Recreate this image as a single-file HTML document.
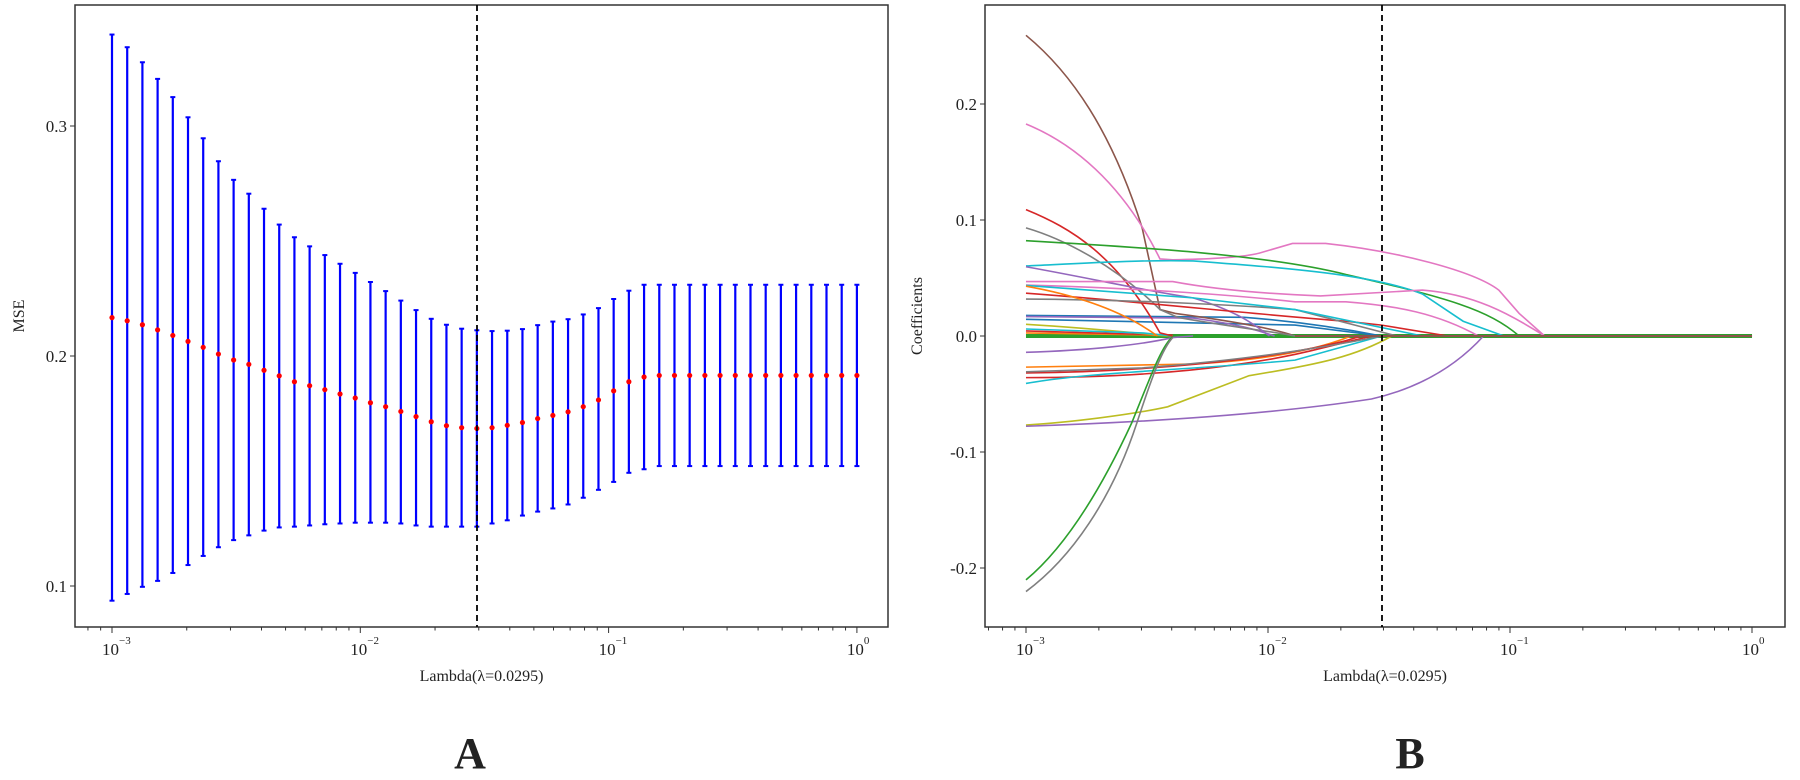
<!DOCTYPE html>
<html><head><meta charset="utf-8"><style>
html,body{margin:0;padding:0;background:#fff}
svg{display:block}
text{font-family:"Liberation Serif",serif;fill:#222}
</style></head><body>
<svg id="s" width="1800" height="780" viewBox="0 0 1800 780" xmlns="http://www.w3.org/2000/svg">
<rect width="1800" height="780" fill="#fff"/>
<g id="L"></g>
<g id="R" fill="none" stroke-width="1.6" transform="translate(785.5,2.24) scale(0.5095,0.389)">
<path stroke="#2ca02c" stroke-width="4" vector-effect="non-scaling-stroke" d="M472,858 L1897,858"/>
<path stroke="#ff7f0e" vector-effect="non-scaling-stroke" d="M472,850 L700,855 L760,858"/>
<path stroke="#d62728" vector-effect="non-scaling-stroke" d="M472,845 L760,856"/>
<path stroke="#bcbd22" vector-effect="non-scaling-stroke" d="M472,828 C560,835 650,845 750,858"/>
<path stroke="#1f77b4" vector-effect="non-scaling-stroke" d="M472,805 L900,810 C1000,820 1100,840 1170,858"/>
<path stroke="#1f77b4" vector-effect="non-scaling-stroke" d="M472,815 L1000,830 L1170,858"/>
<path stroke="#9467bd" vector-effect="non-scaling-stroke" d="M472,808 L800,812 C900,830 930,845 960,858"/>
<path stroke="#17becf" vector-effect="non-scaling-stroke" d="M472,840 L700,850 L760,858"/>
<path stroke="#8c564b" vector-effect="non-scaling-stroke" d="M472,85 C560,180 640,330 700,580 L735,790 L765,800 C850,815 950,835 1000,858"/>
<path stroke="#e377c2" vector-effect="non-scaling-stroke" d="M472,313 C560,360 660,460 735,660 L760,662 C850,660 900,655 930,645 L995,620 L1060,620 C1200,640 1350,690 1400,740 L1440,800 L1490,858"/>
<path stroke="#d62728" vector-effect="non-scaling-stroke" d="M472,533 C560,580 650,650 735,850 L760,858"/>
<path stroke="#7f7f7f" vector-effect="non-scaling-stroke" d="M472,580 C550,610 650,680 735,790 L770,810 C850,830 950,845 1000,858"/>
<path stroke="#2ca02c" vector-effect="non-scaling-stroke" d="M472,613 C700,630 950,650 1100,700 C1300,760 1380,790 1440,858"/>
<path stroke="#17becf" vector-effect="non-scaling-stroke" d="M472,678 C600,670 700,662 800,665 C1000,685 1150,700 1250,750 L1330,820 L1410,858"/>
<path stroke="#9467bd" vector-effect="non-scaling-stroke" d="M472,680 C600,710 700,740 800,760 C900,800 930,840 950,858"/>
<path stroke="#e377c2" vector-effect="non-scaling-stroke" d="M472,718 L760,718 C850,740 950,750 1050,755 L1250,740 C1350,750 1420,800 1490,858"/>
<path stroke="#e377c2" vector-effect="non-scaling-stroke" d="M472,727 C700,735 900,755 1000,770 L1100,770 C1200,780 1280,800 1360,858"/>
<path stroke="#d62728" vector-effect="non-scaling-stroke" d="M472,748 C700,770 900,800 1100,820 L1170,830 L1300,858"/>
<path stroke="#7f7f7f" vector-effect="non-scaling-stroke" d="M472,763 C700,765 900,780 1000,790 L1200,858"/>
<path stroke="#17becf" vector-effect="non-scaling-stroke" d="M472,728 C600,740 700,750 800,760 L1000,790 L1250,858"/>
<path stroke="#ff7f0e" vector-effect="non-scaling-stroke" d="M472,730 C600,760 680,810 730,858"/>
<path stroke="#9467bd" vector-effect="non-scaling-stroke" d="M472,900 C600,895 700,880 760,862 L800,858"/>
<path stroke="#ff7f0e" vector-effect="non-scaling-stroke" d="M472,938 L800,930 C950,920 1050,890 1110,858"/>
<path stroke="#d62728" vector-effect="non-scaling-stroke" d="M472,953 C700,950 950,920 1100,870 L1130,858"/>
<path stroke="#d62728" vector-effect="non-scaling-stroke" d="M472,965 C700,965 900,940 1050,890 L1150,858"/>
<path stroke="#17becf" vector-effect="non-scaling-stroke" d="M472,980 C600,950 800,945 1000,920 L1170,858"/>
<path stroke="#7f7f7f" vector-effect="non-scaling-stroke" d="M472,950 L700,940 C900,920 1050,890 1170,858"/>
<path stroke="#bcbd22" vector-effect="non-scaling-stroke" d="M472,1087 C560,1080 680,1060 750,1040 L910,960 C1050,930 1120,910 1190,858"/>
<path stroke="#9467bd" vector-effect="non-scaling-stroke" d="M472,1090 C700,1080 950,1060 1150,1020 C1250,990 1320,930 1370,858"/>
<path stroke="#2ca02c" vector-effect="non-scaling-stroke" d="M472,1485 C550,1400 620,1250 680,1080 C720,950 740,880 760,860"/>
<path stroke="#7f7f7f" vector-effect="non-scaling-stroke" d="M472,1515 C560,1430 640,1280 690,1080 C720,960 740,890 760,862"/>
<path stroke="#8c564b" stroke-width="2" vector-effect="non-scaling-stroke" d="M1000,858 L1897,858"/>
</g>
<g id="A"></g>
</svg>
<script>
var NS="http://www.w3.org/2000/svg";
function el(p,t,a,txt){var e=document.createElementNS(NS,t);for(var k in a)e.setAttribute(k,a[k]);if(txt!==undefined)e.textContent=txt;p.appendChild(e);return e;}
var L=document.getElementById('L'),A=document.getElementById('A');
var tops=[85,117,155,197,243,294,347,405,452,487,525,565,597,620,642,664,687,710,733,757,781,803,818,828,832,834,833,829,819,810,804,792,776,753,732];
var means=[800,808,818,831,845,860,875,892,907,918,933,947,962,972,982,993,1003,1015,1025,1037,1050,1063,1073,1078,1080,1078,1072,1065,1055,1047,1038,1025,1008,985,962,950];
var bots=[1515,1498,1480,1465,1445,1425,1402,1380,1362,1350,1338,1330,1328,1325,1322,1320,1318,1318,1318,1320,1325,1328,1328,1328,1328,1320,1312,1300,1290,1282,1272,1255,1235,1215,1192,1183];
function ry(z){return 126+(z-316)*0.3959;}
for(var i=0;i<50;i++){
 var x=112+(3*i/49)*248.3;
 var t=ry(i<tops.length?tops[i]:717),m=ry(i<means.length?means[i]:946),b=ry(i<bots.length?bots[i]:1175);
 el(L,'line',{x1:x,x2:x,y1:t,y2:b,stroke:'#0000ff','stroke-width':2.2});
 el(L,'line',{x1:x-2.5,x2:x+2.5,y1:t,y2:t,stroke:'#0000ff','stroke-width':2});
 el(L,'line',{x1:x-2.5,x2:x+2.5,y1:b,y2:b,stroke:'#0000ff','stroke-width':2});
 el(L,'circle',{cx:x,cy:m,r:2.6,fill:'#ff0000'});
}
function axes(x0,x1,top,bot,lx0,dec,yt,ylab,ylx,xl,letter,lxc){
 el(A,'rect',{x:x0,y:top,width:x1-x0,height:bot-top,fill:'none',stroke:'#333','stroke-width':1.5});
 for(var d=-1;d<=3;d++){for(var k=1;k<10;k++){var xx=lx0+(d+Math.log10(k))*dec;if(xx<x0||xx>x1)continue;
  el(A,'line',{x1:xx,x2:xx,y1:bot,y2:bot+(k==1?6:3.5),stroke:'#333','stroke-width':1});}}
 var ex=['\u22123','\u22122','\u22121','0'];
 for(var d=0;d<4;d++){var xx=lx0+d*dec;var g=el(A,'text',{x:xx-10,y:bot+28,'font-size':17});g.textContent='10';
  el(A,'text',{x:xx+7,y:bot+17,'font-size':11},ex[d]);}
 yt.forEach(function(p){el(A,'line',{x1:x0-5,x2:x0,y1:p[0],y2:p[0],stroke:'#333','stroke-width':1});
  el(A,'text',{x:x0-8,y:p[0]+6,'font-size':17,'text-anchor':'end'},p[1]);});
 el(A,'text',{x:ylx,y:(top+bot)/2,'font-size':16,'text-anchor':'middle',transform:'rotate(-90 '+ylx+' '+(top+bot)/2+')'},ylab);
 el(A,'line',{x1:xl,x2:xl,y1:top,y2:bot,stroke:'#000','stroke-width':1.8,'stroke-dasharray':'6,4'});
 el(A,'text',{x:(x0+x1)/2,y:bot+54,'font-size':16,'text-anchor':'middle'},'Lambda(\u03bb=0.0295)');
 el(A,'text',{x:lxc,y:768,'font-size':44,'font-weight':'bold','text-anchor':'middle'},letter);
}
axes(75,888,5,627,112,248.3,[[126,'0.3'],[356,'0.2'],[586,'0.1']],'MSE',24,477,'A',470);
axes(985,1785,5,627,1026,242,[[104,'0.2'],[220,'0.1'],[336,'0.0'],[452,'-0.1'],[568,'-0.2']],'Coefficients',922,1382,'B',1410);
</script>
</body></html>
